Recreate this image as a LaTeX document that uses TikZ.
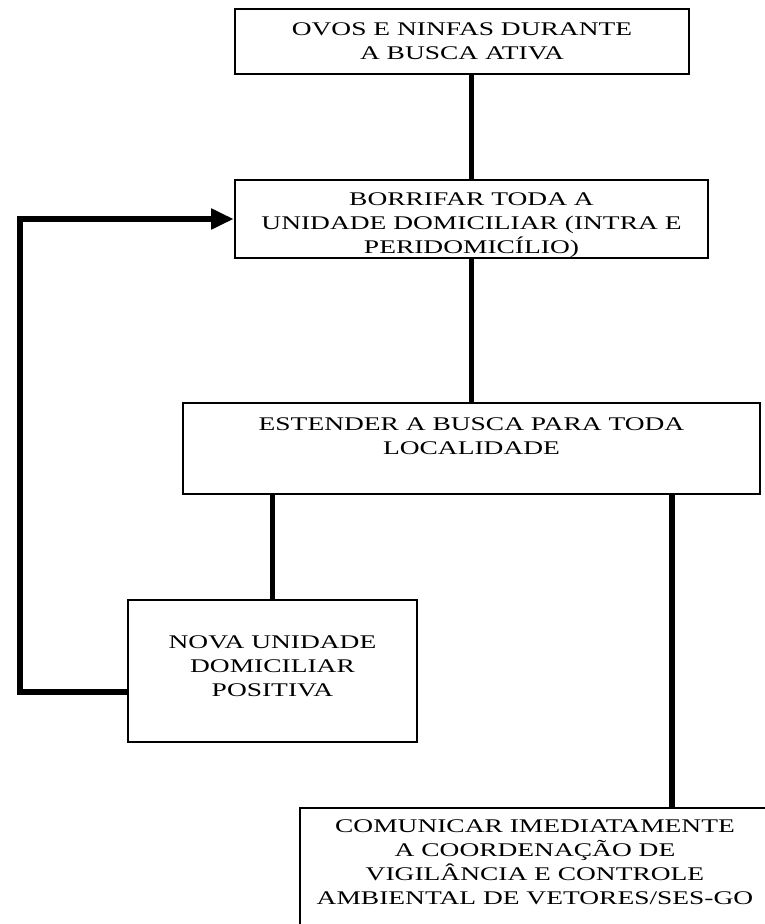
\documentclass[tikz,border=0pt]{standalone}
\usepackage{fontspec}
\setmainfont{Liberation Serif}[FakeStretch=1.42]
\usepackage{tikz}
\usetikzlibrary{arrows.meta}

\begin{document}
\begin{tikzpicture}[x=0.75pt,y=-0.75pt,
		caixa/.style={draw,line width=2pt,align=center,inner sep=0pt,
			font=\fontsize{14.5pt}{18pt}\selectfont},
		liga/.style={line width=4pt}]
	\useasboundingbox (0,0) rectangle (764,924);
	% caixas
	\node[caixa,minimum width=340.5pt,minimum height=48.75pt] (ovos) at (462,41.5)
		{OVOS E NINFAS DURANTE\\A BUSCA ATIVA};
	\node[caixa,minimum width=354.75pt,minimum height=58.5pt] (borrifar) at (471.5,219)
		{\rule{0pt}{19pt}BORRIFAR TODA A\\UNIDADE DOMICILIAR (INTRA E\\PERIDOMIC\'ILIO)};
	\node[caixa,minimum width=432.75pt,minimum height=68.25pt] (estender) at (471.5,448.5)
		{ESTENDER A BUSCA PARA TODA\\LOCALIDADE\\\mbox{}};
	\node[caixa,minimum width=216.75pt,minimum height=106.5pt] (nova) at (272.5,671)
		{NOVA UNIDADE\\DOMICILIAR\\POSITIVA\rule[-8pt]{0pt}{8pt}};
	\node[caixa,minimum width=352.5pt,minimum height=99pt] (comunicar) at (535,874)
		{COMUNICAR IMEDIATAMENTE\\A COORDENA\c{C}\~AO DE\\VIGIL\^ANCIA E CONTROLE\\AMBIENTAL DE VETORES/SES-GO\\\mbox{}};
	\coordinate (desvio) at (672,0);
	\coordinate (volta) at (20,692);
	% ligacoes
	\draw[liga] (ovos.south -| borrifar.north) -- (borrifar.north);
	\draw[liga] (borrifar.south) -- (estender.north);
	\draw[liga] (estender.south -| nova.north) -- (nova.north);
	\draw[liga] (estender.south -| desvio) -- (comunicar.north -| desvio);
	\draw[liga,-{Triangle[length=17pt,width=15pt]}] (nova.west |- volta) -- (volta) |- (borrifar.west);
\end{tikzpicture}
\end{document}
